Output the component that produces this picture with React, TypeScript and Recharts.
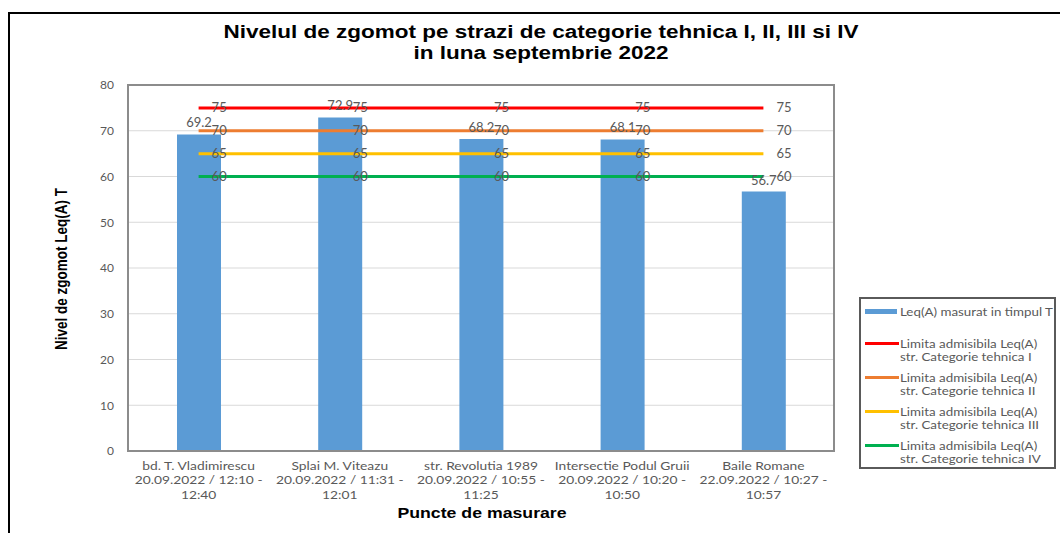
import React from "react";
import {
  ComposedChart,
  Bar,
  Line,
  XAxis,
  YAxis,
  CartesianGrid,
  LabelList,
  Legend,
  ReferenceArea,
} from "recharts";

const locations = [
  "bd. T. Vladimirescu",
  "Splai M. Viteazu",
  "str. Revolutia 1989",
  "Intersectie Podul Gruii",
  "Baile Romane",
];
const intervals = [
  "20.09.2022 / 12:10 -",
  "20.09.2022 / 11:31 -",
  "20.09.2022 / 10:55 -",
  "20.09.2022 / 10:20 -",
  "22.09.2022 / 10:27 -",
];
const endTimes = ["12:40", "12:01", "11:25", "10:50", "10:57"];
const measured = [69.2, 72.9, 68.2, 68.1, 56.7];
const limitI = [75, 75, 75, 75, 75];
const limitII = [70, 70, 70, 70, 70];
const limitIII = [65, 65, 65, 65, 65];
const limitIV = [60, 60, 60, 60, 60];
const yTicks = [0, 10, 20, 30, 40, 50, 60, 70, 80];

const BLUE = "#5b9bd5";
const LABEL = "#595959";
const FONT = "Lato, 'Open Sans', sans-serif";
const BOLD = "'Liberation Sans', Arial, sans-serif";

const limits = [
  { key: "limI", color: "#ff0000", name: "str. Categorie tehnica I" },
  { key: "limII", color: "#ed7d31", name: "str. Categorie tehnica II" },
  { key: "limIII", color: "#ffc000", name: "str. Categorie tehnica III" },
  { key: "limIV", color: "#00b050", name: "str. Categorie tehnica IV" },
];

const data = locations.map((loc, i) => ({
  loc,
  interval: intervals[i],
  end: endTimes[i],
  value: measured[i],
  limI: limitI[i],
  limII: limitII[i],
  limIII: limitIII[i],
  limIV: limitIV[i],
}));

function CategoryTick(props: any) {
  const { x, y, payload } = props;
  const row = data[payload.index] ?? data.find((d) => d.loc === payload.value);
  const lines = row ? [row.loc, row.interval, row.end] : [payload.value];
  return (
    <g transform={`translate(${x},${y}) scale(1.2,1)`}>
      {lines.map((t, i) => (
        <text
          key={i}
          x={0}
          y={11 + i * 14.5}
          textAnchor="middle"
          fill={LABEL}
          fontSize={11.5}
          fontFamily={FONT}
        >
          {t}
        </text>
      ))}
    </g>
  );
}

function lineLabel(props: any) {
  const { x, y, value } = props;
  if (x == null || y == null) return null;
  return (
    <text x={x + 13} y={y + 4.5} fill={LABEL} fontSize={13} fontFamily={FONT}>
      {value}
    </text>
  );
}

function LegendBox() {
  return (
    <div
      style={{
        width: 193,
        height: 168,
        border: "2px solid #5a5a5a",
        background: "#fff",
        fontFamily: FONT,
        fontSize: 11.5,
        color: LABEL,
        lineHeight: "13px",
        boxSizing: "content-box",
        overflow: "hidden",
      }}
    >
      <div style={{ display: "flex", alignItems: "center", marginTop: 6 }}>
        <span style={{ width: 32, height: 5, background: BLUE, margin: "0 3px 0 4px", flex: "none" }} />
        <span style={{ whiteSpace: "nowrap", transform: "scaleX(1.16)", transformOrigin: "left center" }}>
          Leq(A) masurat in timpul T
        </span>
      </div>
      {limits.map((l, i) => (
        <div
          key={l.key}
          style={{ display: "flex", alignItems: "flex-start", marginTop: i === 0 ? 19 : 8 }}
        >
          <span
            style={{ width: 34, height: 3, background: l.color, margin: "5px 1px 0 4px", flex: "none" }}
          />
          <span style={{ whiteSpace: "nowrap", transform: "scaleX(1.16)", transformOrigin: "left center" }}>
            Limita admisibila Leq(A)
            <br />
            {l.name}
          </span>
        </div>
      ))}
    </div>
  );
}

export default function App() {
  return (
    <div
      style={{
        position: "absolute",
        left: 0,
        top: 0,
        width: 1060,
        height: 533,
        overflow: "hidden",
        background: "#fff",
      }}
    >
      <div
        style={{
          position: "absolute",
          left: 8,
          top: 12,
          width: 1200,
          height: 700,
          border: "2px solid #000",
        }}
      />
      <div
        style={{
          position: "absolute",
          left: 541,
          top: 43,
          transform: "translate(-50%, -50%) scaleX(1.25)",
          textAlign: "center",
          whiteSpace: "nowrap",
          fontFamily: BOLD,
          fontWeight: "bold",
          fontSize: 18,
          lineHeight: "21px",
          color: "#000",
        }}
      >
        Nivelul de zgomot pe strazi de categorie tehnica I, II, III si IV
        <br />
        in luna septembrie 2022
      </div>
      <div
        style={{
          position: "absolute",
          left: 62,
          top: 269,
          transform: "translate(-50%, -50%) rotate(-90deg) scaleY(1.2)",
          whiteSpace: "nowrap",
          fontFamily: BOLD,
          fontWeight: "bold",
          fontSize: 13.5,
          color: "#000",
        }}
      >
        Nivel de zgomot Leq(A) T
      </div>
      <div
        style={{
          position: "absolute",
          left: 482,
          top: 512,
          transform: "translate(-50%, -50%) scaleX(1.18)",
          whiteSpace: "nowrap",
          fontFamily: BOLD,
          fontWeight: "bold",
          fontSize: 15,
          color: "#000",
        }}
      >
        Puncte de masurare
      </div>
      <div style={{ position: "absolute", left: 0, top: 0 }}>
        <ComposedChart
          width={1060}
          height={533}
          data={data}
          margin={{ top: 85, right: 226, bottom: 22, left: 68 }}
        >
          <CartesianGrid horizontal vertical={false} stroke="#d9d9d9" />
          <XAxis
            dataKey="loc"
            interval={0}
            height={60}
            tick={<CategoryTick />}
            tickLine={false}
            axisLine={{ stroke: "#8c8c8c", strokeWidth: 2 }}
          />
          <YAxis
            width={60}
            domain={[0, 80]}
            ticks={yTicks}
            tickLine={false}
            axisLine={{ stroke: "#8c8c8c", strokeWidth: 2 }}
            tick={{ fill: LABEL, fontSize: 12, fontFamily: FONT }}
            tickMargin={8}
          />
          <ReferenceArea
            y1={0}
            y2={80}
            fill="none"
            stroke="#8c8c8c"
            strokeWidth={2}
            ifOverflow="visible"
          />
          <Bar dataKey="value" fill={BLUE} barSize={44} isAnimationActive={false}>
            <LabelList
              dataKey="value"
              position="top"
              offset={7}
              fill={LABEL}
              fontSize={13}
              fontFamily={FONT}
            />
          </Bar>
          {limits.map((l) => (
            <Line
              key={l.key}
              dataKey={l.key}
              stroke={l.color}
              strokeWidth={3}
              dot={false}
              activeDot={false}
              isAnimationActive={false}
            >
              <LabelList dataKey={l.key} content={lineLabel} />
            </Line>
          ))}
          <Legend
            layout="vertical"
            align="center"
            verticalAlign="middle"
            content={() => <LegendBox />}
            wrapperStyle={{ left: 859, top: 297, width: 197, height: 172 }}
          />
        </ComposedChart>
      </div>
    </div>
  );
}
